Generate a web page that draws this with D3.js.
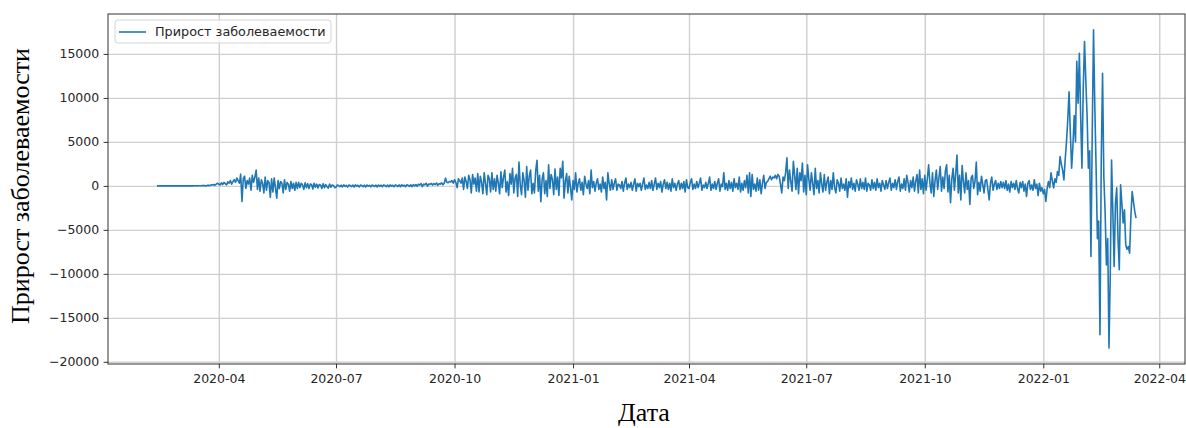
<!DOCTYPE html>
<html>
<head>
<meta charset="utf-8">
<script src="https://cdn.jsdelivr.net/npm/d3@7"></script>
<style>
body { margin: 0; background: #fff; }
.axis text { font-family: "DejaVu Sans", sans-serif; font-size: 12.5px; fill: #262626; }
.axis path { display: none; }
.axis line { stroke: #333; stroke-width: 1; }
.grid line { stroke: #cfcfcf; stroke-width: 1.4; }
.grid path { display: none; }
</style>
</head>
<body>
<div id="chart"></div>
<script>

var startDate = "2020-02-13";
var seriesName = "Прирост заболеваемости";
var xLabel = "Дата";
var yLabel = "Прирост заболеваемости";
var xTickLabels = ["2020-04", "2020-07", "2020-10", "2021-01", "2021-04", "2021-07", "2021-10", "2022-01", "2022-04"];
var yTicks = [-20000, -15000, -10000, -5000, 0, 5000, 10000, 15000];

// daily values, one line per month
var growth2020 = [
  0,0,0,0,0,0,0,0,0,0,0,0,0,0,0,0,0,                                                   // feb (from 13th)
  0,0,1,-1,2,0,3,1,0,5,8,-2,10,6,4,15,20,12,30,25,45,-10,60,80,30,120,90,150,70,200,300, // mar
  200,100,350,150,400,250,100,450,300,600,200,500,700,400,900,600,300,1330,-1780,800,1100,-300,600,200,900,-500,1200,400,1000,1800, // apr
  -400,900,-600,700,300,-800,1000,-500,600,400,-1300,800,-700,900,-200,-1400,600,-300,500,300,-800,700,-400,400,200,-600,500,-300,300,-500,400, // may
  -300,400,-200,300,100,-400,350,-200,250,-300,200,150,-350,300,-150,200,-250,150,100,-300,250,-200,150,-100,-250,200,-150,100,50,-200, // jun
  -150,100,50,-100,80,-120,120,-50,60,-140,100,40,-80,90,-130,110,-40,70,-120,90,30,-90,80,-130,100,-30,60,-110,90,20,-80, // jul
  90,-120,100,-40,80,-100,110,40,-90,100,-110,120,-30,70,-100,110,50,-80,110,-100,130,-20,80,-90,120,60,-70,120,-90,140,-10, // aug
  150,-50,180,100,250,-80,200,120,300,-40,220,170,280,90,260,150,330,60,250,200,350,120,300,880,400,350,500,450,600,300, // sep
  700,400,-200,800,600,300,900,-400,1000,500,-300,1200,700,-800,1300,200,900,-600,1400,-700,1100,400,-900,1500,300,-1000,1200,800,-700,1500,-400, // oct
  800,-600,1200,300,-900,1600,-200,1000,1800,-700,500,-1100,1400,200,2000,-800,900,1300,-1200,2700,100,-1000,1500,600,-1300,2200,-500,1100,1800,-900, // nov
  300,-800,1700,2900,-600,1200,-1800,800,1500,-900,600,-1200,2400,-300,1300,700,-1000,1900,-400,1000,-1100,2000,900,2800,-1400,500,1400,-800,1100,-200,-1600 // dec
];

var growth2021 = [
  600,-400,1500,-700,300,800,-500,400,-1000,1100,200,-300,600,-900,1800,-200,500,-600,300,800,-400,200,-700,1000,-300,400,-1600,1500,300,-500,700, // jan
  -400,300,800,-500,200,100,-300,500,-600,300,900,-400,200,-200,400,-500,200,800,-600,300,-100,300,-500,200,900,-400,100,-300, // feb
  400,-300,600,-500,200,900,-400,300,-200,500,-700,200,700,-300,400,-400,300,-600,800,-200,300,-500,200,600,-400,300,-300,500,-700,700,-200, // mar
  -300,400,800,-400,200,-300,500,-200,300,900,-500,100,-200,400,-300,300,1000,-500,200,-300,500,-400,300,800,-600,200,-100,1500,-400,300, // apr
  -500,600,-300,400,-600,800,-200,300,-400,1000,-700,300,-500,600,-200,1200,-800,1500,-1200,1300,-400,200,-600,900,-500,700,-900,300,1200,-300,400, // may
  500,800,1100,700,1000,900,1200,800,1300,1100,200,-800,1000,600,1500,3200,-300,1800,500,-600,2800,1200,-400,2000,-900,1500,600,2600,-700,1200, // jun
  -1000,2400,800,-500,1500,300,-1000,2000,-300,600,-800,1500,200,-700,1300,-500,400,1000,-900,600,-400,1500,-200,-800,700,300,-600,900,-300,200,-500, // jul
  800,-1300,500,-200,900,-400,300,-600,700,200,-500,800,-300,400,-400,900,-600,300,100,-500,700,-300,400,-500,800,-200,300,-600,600,100,-400, // aug
  600,-300,400,900,-500,300,-200,700,-400,500,1000,-600,200,-300,800,-500,1200,400,-700,600,-200,1000,-600,500,1300,-800,1800,-400,800,-900, // sep
  1200,-500,800,2400,300,-800,1500,-1200,600,1800,-400,900,2200,-600,1000,-300,1700,2400,-700,1200,-1900,800,2000,-500,1400,3500,-800,1200,-1600,2300,500, // oct
  -800,1500,-400,600,-2100,900,1200,-300,500,2700,-1000,400,-600,1100,200,-800,600,700,-400,-1600,300,1000,-500,200,600,-400,300,-300,500,-200, // nov
  400,-300,600,-500,200,-700,500,-200,300,-400,600,-300,-800,400,-200,500,-600,200,-1200,300,600,-400,100,-500,700,-300,200,-1100,300,-600,-200 // dec
];

var growth2022 = [
  -900,-400,-1780,-300,500,-200,1480,600,-230,800,400,1630,1200,3330,2500,1800,680,3000,5000,7500,10700,6000,2000,4500,8000,5000,14150,9400,15070,8000,2000, // jan
  11000,16400,12000,8000,2000,4000,-8030,6000,17730,9000,2000,-6000,-4000,-16930,3000,12800,1000,-3000,-9000,-6000,-18440,-10000,2950,-3000,-9170,-2000,-230,-6000, // feb
  -9540,110,-2000,-4200,-2730,-6700,-7200,-6900,-7650,-3500,-650,-1800,-2900,-3670 // mar (to 14th)
];

var margin = {top: 14, right: 1, bottom: 64, left: 108};
var width = 1186 - margin.left - margin.right;
var height = 428 - margin.top - margin.bottom;

var parseDate = d3.timeParse("%Y-%m-%d");
var parseMonth = d3.timeParse("%Y-%m");
var start = parseDate(startDate);

var values = growth2020.concat(growth2021, growth2022);
var data = values.map(function(v, i) { return {date: d3.timeDay.offset(start, i), value: v}; });

// matplotlib style 5% margins
var xExt = d3.extent(data, function(d) { return d.date; });
var xPad = (xExt[1] - xExt[0]) * 0.05;
var yExt = d3.extent(data, function(d) { return d.value; });
var yPad = (yExt[1] - yExt[0]) * 0.05;

var xScale = d3.scaleTime()
    .domain([new Date(+xExt[0] - xPad), new Date(+xExt[1] + xPad)])
    .range([0, width]);

var yScale = d3.scaleLinear()
    .domain([yExt[0] - yPad, yExt[1] + yPad])
    .range([height, 0]);

var xTicks = xTickLabels.map(function(s) { return parseMonth(s); });

var svg = d3.select("#chart").append("svg")
    .attr("width", width + margin.left + margin.right)
    .attr("height", height + margin.top + margin.bottom);

var g = svg.append("g")
    .attr("transform", "translate(" + margin.left + "," + margin.top + ")");

// grid
g.append("g").attr("class", "grid")
    .attr("transform", "translate(0," + height + ")")
    .call(d3.axisBottom(xScale).tickValues(xTicks).tickSize(-height).tickFormat(""));

g.append("g").attr("class", "grid")
    .call(d3.axisLeft(yScale).tickValues(yTicks).tickSize(-width).tickFormat(""));

// the series
var line = d3.line()
    .x(function(d) { return xScale(d.date); })
    .y(function(d) { return yScale(d.value); });

g.append("path")
    .datum(data)
    .attr("fill", "none")
    .attr("stroke", "#1f77b4")
    .attr("stroke-width", 1.6)
    .attr("stroke-linejoin", "round")
    .attr("d", line);

// frame
g.append("rect")
    .attr("width", width)
    .attr("height", height)
    .attr("fill", "none")
    .attr("stroke", "#333")
    .attr("stroke-width", 1);

// axes
g.append("g").attr("class", "x axis")
    .attr("transform", "translate(0," + height + ")")
    .call(d3.axisBottom(xScale).tickValues(xTicks).tickSize(4.4).tickPadding(6).tickFormat(d3.timeFormat("%Y-%m")));

g.append("g").attr("class", "y axis")
    .call(d3.axisLeft(yScale).tickValues(yTicks).tickSize(4.4).tickPadding(4.4).tickFormat(d3.format("d")));

// legend
var legend = g.append("g").attr("transform", "translate(7,6)");
legend.append("rect")
    .attr("width", 216).attr("height", 23).attr("rx", 3)
    .attr("fill", "#fff").attr("fill-opacity", 0.8)
    .attr("stroke", "#d5d5d5");
legend.append("line")
    .attr("x1", 4).attr("x2", 31).attr("y1", 12).attr("y2", 12)
    .attr("stroke", "#1f77b4").attr("stroke-width", 1.6);
legend.append("text")
    .attr("x", 40).attr("y", 16)
    .style("font-family", "DejaVu Sans, sans-serif")
    .style("font-size", "12.8px")
    .attr("fill", "#262626")
    .text(seriesName);

// axis titles
svg.append("text")
    .attr("transform", "translate(28.5,186) rotate(-90)")
    .attr("text-anchor", "middle")
    .style("font-family", "Liberation Serif, serif")
    .style("font-size", "26px")
    .attr("fill", "#000")
    .text(yLabel);

svg.append("text")
    .attr("x", 644)
    .attr("y", 421)
    .attr("text-anchor", "middle")
    .style("font-family", "Liberation Serif, serif")
    .style("font-size", "26px")
    .attr("fill", "#000")
    .text(xLabel);

</script>
</body>
</html>
